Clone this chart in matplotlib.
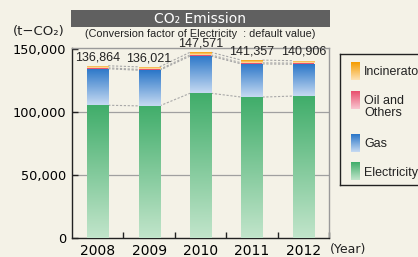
"""CO2 emission stacked bars (2008-2012) with gradient fills and dashed connectors."""

import numpy as np
import matplotlib

matplotlib.use("Agg")
import matplotlib.pyplot as plt
from matplotlib.colors import LinearSegmentedColormap

YEARS = ["2008", "2009", "2010", "2011", "2012"]
ELECTRICITY = [105500, 105000, 115000, 112000, 112800]
GAS = [29000, 28300, 29500, 26300, 25300]
OIL = [700, 700, 1000, 900, 900]
INCINERATOR = [1664, 2021, 2071, 2157, 1906]
TOTALS = [136864, 136021, 147571, 141357, 140906]

BG = "#f4f2e7"
# (top colour, bottom colour) of each gradient
GRAD = {
    "Incinerator": ("#f59c00", "#fde2b4"),
    "Oil and\nOthers": ("#e8506e", "#f9c6d0"),
    "Gas": ("#2a76c8", "#c6daf2"),
    "Electricity": ("#40ad6a", "#c2e5cb"),
}

W, H = 418, 257


def vgrad(top, bottom):
    return LinearSegmentedColormap.from_list("g", [bottom, top])


def fill_gradient(ax, patch, cmap, z=3):
    x0, y0 = patch.get_x(), patch.get_y()
    x1, y1 = x0 + patch.get_width(), y0 + patch.get_height()
    grad = np.linspace(0, 1, 256).reshape(-1, 1)
    im = ax.imshow(grad, extent=(x0, x1, y0, y1), origin="lower", aspect="auto",
                   cmap=cmap, zorder=z, interpolation="bilinear")
    im.set_clip_path(patch)


fig = plt.figure(figsize=(W / 100, H / 100), dpi=100, facecolor=BG)

# main axes in pixel layout
left, right, top, bottom = 72, 329, 48, 238
ax = fig.add_axes([left / W, (H - bottom) / H, (right - left) / W, (bottom - top) / H])
ax.set_facecolor(BG)

x = np.arange(len(YEARS))
bw = 0.41
elec = np.array(ELECTRICITY)
gas = np.array(GAS)
oil = np.array(OIL)
inc = np.array(INCINERATOR)

b_el = ax.bar(x, elec, bw, color="none", zorder=3)
b_gas = ax.bar(x, gas, bw, bottom=elec, color="none", zorder=3)
b_oil = ax.bar(x, oil, bw, bottom=elec + gas, color="none", zorder=3)
b_inc = ax.bar(x, inc, bw, bottom=elec + gas + oil, color="none", zorder=3)

for p in b_el:
    fill_gradient(ax, p, vgrad(*GRAD["Electricity"]))
for p in b_gas:
    fill_gradient(ax, p, vgrad(*GRAD["Gas"]))
for p in b_oil:
    p.set_facecolor(GRAD["Oil and\nOthers"][0])
for p in b_inc:
    fill_gradient(ax, p, vgrad(*GRAD["Incinerator"]))

# dashed connectors between adjacent bars
levels = [elec, elec + gas, elec + gas + oil, elec + gas + oil + inc]
for lv in levels:
    for i in range(len(x) - 1):
        ax.plot([x[i] + bw / 2, x[i + 1] - bw / 2], [lv[i], lv[i + 1]],
                ls=(0, (2, 1.5)), color="#a8a8a8", lw=0.8, zorder=2)

for xi, tot in zip(x, TOTALS):
    ax.annotate(f"{tot:,}", (xi, tot), xytext=(0, 2), textcoords="offset points",
                ha="center", va="bottom", fontsize=9,
                family="Liberation Sans", color="#222222", zorder=5)

ax.set_xlim(-0.5, len(YEARS) - 0.5)
ax.set_ylim(0, 151000)
ax.set_yticks([0, 50000, 100000, 150000])
ax.set_yticklabels(["0", "50,000", "100,000", "150,000"])
ax.set_xticks(x)
ax.set_xticklabels(YEARS)
ax.set_xticks(np.arange(0.5, len(YEARS), 1.0), minor=True)
ax.tick_params(axis="x", which="major", length=0, pad=4, labelsize=10)
ax.tick_params(axis="x", which="minor", direction="in", length=4, width=1, color="#222222")
ax.tick_params(axis="y", direction="in", length=4, width=1, pad=4, labelsize=9.3, color="#222222")
for t in [50000, 100000]:
    ax.axhline(t, color="#a0a0a0", lw=0.9, zorder=1)

ax.spines["left"].set_color("#222222")
ax.spines["bottom"].set_color("#222222")
ax.spines["top"].set_color("#9a9a9a")
ax.spines["right"].set_color("#9a9a9a")
for s in ax.spines.values():
    s.set_linewidth(1)

fig.text(330 / W, (H - 249) / H, "(Year)", fontsize=9, va="center", ha="left", color="#222222")
fig.text(13 / W, (H - 31) / H, "(t\u2212CO\u2082)", fontsize=9.5, va="center", ha="left", color="#222222")
fig.text(200 / W, (H - 34) / H, "(Conversion factor of Electricity  : default value)",
         fontsize=7.8, family="Liberation Sans", va="center", ha="center", color="#222222")

# title bar
tax = fig.add_axes([71 / W, (H - 27) / H, 259 / W, 17 / H])
tax.set_facecolor("#606060")
tax.set_xticks([])
tax.set_yticks([])
for s in tax.spines.values():
    s.set_visible(False)
tax.text(0.5, 0.48, "CO\u2082 Emission", transform=tax.transAxes, ha="center", va="center",
         color="white", fontsize=10)

# legend box (right edge runs past the figure)
lax = fig.add_axes([340 / W, (H - 185) / H, 85 / W, 131 / H])
lax.set_facecolor(BG)
lax.set_xticks([])
lax.set_yticks([])
for s in lax.spines.values():
    s.set_color("#222222")
    s.set_linewidth(1)

legend_rows = [("Incinerator", 62, 80, 72), ("Oil and\nOthers", 91, 109, 107),
               ("Gas", 134, 152, 144), ("Electricity", 162, 180, 173)]
for name, y0, y1, ty in legend_rows:
    grad = np.linspace(0, 1, 64).reshape(-1, 1)
    lax.imshow(grad, extent=(351, 360, y1, y0), origin="lower", aspect="auto",
               cmap=vgrad(*GRAD[name]), interpolation="bilinear")
    lax.text(364, ty, name, ha="left", va="center", fontsize=9, family="Liberation Sans",
             color="#222222", linespacing=0.95)
lax.set_xlim(340, 425)
lax.set_ylim(185, 54)

fig.savefig("out.png", dpi=100, facecolor=BG)
